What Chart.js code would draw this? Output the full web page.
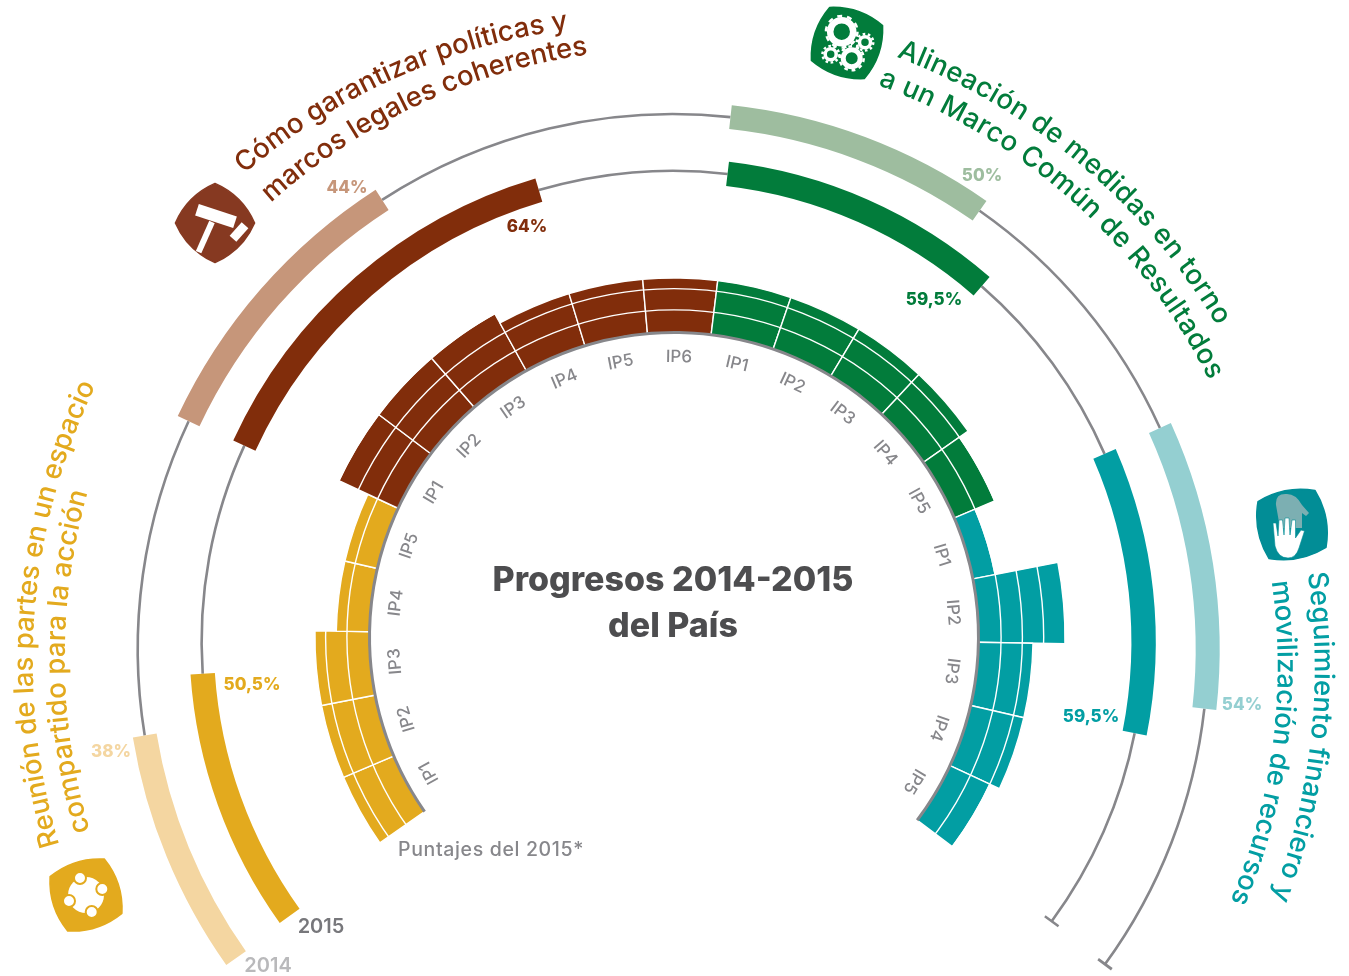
<!DOCTYPE html>
<html lang="es">
<head>
<meta charset="utf-8">
<title>Progresos 2014-2015 del País</title>
<script src="https://cdn.jsdelivr.net/npm/chart.js@4"></script>
<style>
  html, body { margin: 0; background: #fff; overflow: hidden; }
  #stage { position: relative; width: 1349px; height: 976px; overflow: hidden; }
  #stage canvas { position: absolute; left: 0; top: 0; }
  #overlay { position: absolute; left: 0; top: 0; pointer-events: none; }
  #overlay text { font-family: Inter, "Noto Sans", sans-serif; }
</style>
</head>
<body>
<div id="stage">
  <svg id="overlay" width="1349" height="976" xmlns="http://www.w3.org/2000/svg"></svg>
</div>
<script>
const yellowScores = [2.5, 2.5, 2.5, 1.5, 1.5];
const redScores = [3, 3, 3, 2.5, 2.5, 2.5];
const greenScores = [2.5, 2.5, 2.5, 2.5, 2];
const tealScores = [1, 4, 2.5, 2.5, 2];
const yellowIps = ['IP1', 'IP2', 'IP3', 'IP4', 'IP5'];
const redIps = ['IP1', 'IP2', 'IP3', 'IP4', 'IP5', 'IP6'];
const greenIps = ['IP1', 'IP2', 'IP3', 'IP4', 'IP5'];
const tealIps = ['IP1', 'IP2', 'IP3', 'IP4', 'IP5'];
const gridLevels = [1, 2, 3];

// Arcos anuales en grados: barra, hueco, barra, hueco... (amarillo, marrón, verde, turquesa)
const arcs2014 = [26, 34.5, 31.9, 39.1, 28.8, 30.6, 30.8, 29.7];
const arcs2015 = [31.7, 28.5, 48.9, 23.2, 34.3, 25.5, 34.7, 25.2];
const pct2014 = ['38%', '44%', '50%', '54%'];
const pct2015 = ['50,5%', '64%', '59,5%', '59,5%'];

const COLORS = { yellow: '#e3aa1e', red: '#812d0b', green: '#027c3b', teal: '#029ea3' };
const LIGHT = { yellow: '#f4d6a1', red: '#c6967a', green: '#9ebd9f', teal: '#94cfd1' };
const GRAY = '#87878b';
const CLEAR = 'rgba(0,0,0,0)';
const W = 1349, H = 1300;
const stage = document.getElementById('stage');
const svg = document.getElementById('overlay');
const NS = 'http://www.w3.org/2000/svg';

function newCanvas() {
  const c = document.createElement('canvas');
  c.width = W;
  c.height = H;
  stage.insertBefore(c, svg);
  return c;
}

function boxPadding(cx, cy, r) {
  return { left: cx - r, top: cy - r, right: W - cx - r, bottom: H - cy - r };
}

function ringChart(cx, cy, rOut, rIn, startDeg, values, colors) {
  return new Chart(newCanvas(), {
    type: 'doughnut',
    data: { datasets: [{ data: values, backgroundColor: colors, borderWidth: 0 }] },
    options: {
      responsive: false, animation: false, events: [],
      rotation: startDeg, cutout: (rIn / rOut * 100) + '%',
      layout: { padding: boxPadding(cx, cy, rOut) },
      plugins: { legend: { display: false }, tooltip: { enabled: false } }
    }
  });
}

function sum(a) { return a.reduce((s, v) => s + v, 0); }

function yearRings(cx, cy, rMid, halfBar, startDeg, arcs, palette) {
  const rest = 360 - sum(arcs);
  const barColors = [palette.yellow, CLEAR, palette.red, CLEAR, palette.green, CLEAR, palette.teal, CLEAR, CLEAR];
  const lineColors = [CLEAR, GRAY, CLEAR, GRAY, CLEAR, GRAY, CLEAR, GRAY, CLEAR];
  const values = arcs.concat([rest]);
  ringChart(cx, cy, rMid + 1.3, rMid - 1.3, startDeg, values, lineColors);
  // remate final de la línea
  const tickDeg = 0.3;
  ringChart(cx, cy, rMid + 8.5, rMid - 8.5, startDeg + sum(arcs) - tickDeg / 2, [tickDeg, 360 - tickDeg], [GRAY, CLEAR]);
  ringChart(cx, cy, rMid + halfBar, rMid - halfBar, startDeg, values, barColors);
}

yearRings(672.7, 649, 535, 12, 234.7, arcs2014, LIGHT);
yearRings(672.6, 641.7, 471, 12.2, 234.4, arcs2015, COLORS);

// Celdas interiores: polar con un slot de 12° por IP
const innerCx = 674, innerCy = 637, outerR = 391, pxPerPoint = 21.3, innerR = 305;
const maxScore = 4;
const minScore = maxScore - outerR / pxPerPoint;
const zeroValue = maxScore - (outerR - innerR) / pxPerPoint;
const blanks = [minScore, minScore, minScore, minScore, minScore, minScore, minScore, minScore, minScore];
const slotValues = [].concat(yellowScores, redScores, greenScores, tealScores, blanks);
const slotLabels = [].concat(yellowIps, redIps, greenIps, tealIps, blanks.map(() => ''));
const slotColors = [].concat(
  yellowScores.map(() => COLORS.yellow), redScores.map(() => COLORS.red),
  greenScores.map(() => COLORS.green), tealScores.map(() => COLORS.teal), blanks.map(() => CLEAR));

const innerMask = {
  id: 'innerMask',
  afterDatasetsDraw(chart) {
    const s = chart.scales.r, ctx = chart.ctx;
    ctx.save();
    ctx.fillStyle = '#fff';
    ctx.beginPath();
    ctx.arc(s.xCenter, s.yCenter, s.getDistanceFromCenterForValue(zeroValue), 0, Math.PI * 2);
    ctx.fill();
    ctx.restore();
  },
  afterDraw(chart) {
    const s = chart.scales.r, ctx = chart.ctx;
    const dist = s.getDistanceFromCenterForValue(zeroValue) - 25;
    const half = Math.PI / slotLabels.length;
    ctx.save();
    ctx.fillStyle = GRAY;
    ctx.font = '500 17px Inter, "Noto Sans", sans-serif';
    ctx.textAlign = 'center';
    ctx.textBaseline = 'middle';
    slotLabels.forEach((label, i) => {
      if (!label) return;
      const p = s.getPointPosition(i, dist, half);
      ctx.save();
      ctx.translate(p.x, p.y);
      ctx.rotate(p.angle + Math.PI / 2);
      ctx.fillText(label, 0, 0);
      ctx.restore();
    });
    ctx.restore();
  }
};

new Chart(newCanvas(), {
  type: 'polarArea',
  data: {
    labels: slotLabels,
    datasets: [{ data: slotValues, backgroundColor: slotColors, borderColor: '#fff', borderWidth: 1.4 }]
  },
  options: {
    responsive: false, animation: false, events: [],
    layout: { padding: boxPadding(innerCx, innerCy, outerR) },
    plugins: { legend: { display: false }, tooltip: { enabled: false } },
    scales: {
      r: {
        startAngle: 235, min: minScore, max: maxScore,
        ticks: { display: false },
        afterBuildTicks(scale) { scale.ticks = gridLevels.map(value => ({ value })); },
        grid: { circular: true, color: '#fff', lineWidth: 1.4, z: 1 },
        angleLines: { display: false },
        pointLabels: { display: false }
      }
    }
  },
  plugins: [innerMask]
});

// Línea gris que cierra el círculo interior
const slotDeg = 12, usedSlots = slotValues.length - blanks.length;
ringChart(innerCx, innerCy, innerR + 1, innerR - 2, 235, [usedSlots * slotDeg, 360 - usedSlots * slotDeg], [GRAY, CLEAR]);

// ---------- textos ----------
function el(name, attrs, parent) {
  const n = document.createElementNS(NS, name);
  Object.keys(attrs).forEach(k => n.setAttribute(k, attrs[k]));
  (parent || svg).appendChild(n);
  return n;
}

function plain(text, x, y, size, color, weight, anchor, spacing) {
  const t = el('text', {
    x, y, fill: color, 'font-size': size, 'font-weight': weight || 400,
    'text-anchor': anchor || 'middle', 'dominant-baseline': 'central',
    'letter-spacing': spacing || 0
  });
  t.textContent = text;
  return t;
}

const curvedLines = [
  { text: 'Cómo garantizar políticas y', cx: 650, cy: 649, r: 625, from: 319.5, to: 352.5, color: COLORS.red },
  { text: 'marcos legales coherentes', cx: 672.7, cy: 649, r: 600.5, from: 318, to: 351.9, color: COLORS.red },
  { text: 'Alineación de medidas en torno', cx: 672.7, cy: 649, r: 633, from: 20.7, to: 59.3, color: COLORS.green },
  { text: 'a un Marco Común de Resultados', cx: 672.7, cy: 649, r: 600, from: 20, to: 63.4, color: COLORS.green },
  { text: 'Seguimiento financiero y', cx: 672.7, cy: 668, r: 642, from: 81.5, to: 111, color: COLORS.teal },
  { text: 'movilización de recursos', cx: 672.7, cy: 666.7, r: 605, from: 81.9, to: 112.8, color: COLORS.teal },
  { text: 'Reunión de las partes en un espacio', cx: 672.7, cy: 662, r: 640, from: 253.4, to: 295.6, color: COLORS.yellow },
  { text: 'compartido para la acción', cx: 672.7, cy: 658, r: 608, from: 253.5, to: 285.8, color: COLORS.yellow }
];

const defs = el('defs', {});
curvedLines.forEach((line, i) => {
  const rad = d => d * Math.PI / 180;
  const pt = d => [line.cx + line.r * Math.sin(rad(d)), line.cy - line.r * Math.cos(rad(d))];
  const a = pt(line.from), b = pt(line.to + 6);
  el('path', { id: 'arc' + i, d: `M${a[0]},${a[1]} A${line.r},${line.r} 0 0 1 ${b[0]},${b[1]}` }, defs);
  const t = el('text', { fill: line.color, 'font-size': 27.5, 'font-weight': 500 });
  const tp = el('textPath', { href: '#arc' + i }, t);
  tp.textContent = line.text;
  const target = rad(line.to - line.from) * line.r;
  const spacing = (target - t.getComputedTextLength()) / (line.text.length - 1);
  t.setAttribute('letter-spacing', spacing.toFixed(3));
});

plain('Progresos 2014-2015', 673, 578, 34, '#4d4d4f', 800);
plain('del País', 673, 624, 34, '#4d4d4f', 800);
plain('Puntajes del 2015*', 398, 849, 19.5, GRAY, 500, 'start', 0.65);
plain('2015', 321, 926, 20, '#77777b', 600);
plain('2014', 268, 965, 20, '#b9b9bb', 600);

plain(pct2014[0], 111, 751, 17, LIGHT.yellow, 800);
plain(pct2014[1], 347, 187, 17, LIGHT.red, 800);
plain(pct2014[2], 982, 175, 17, LIGHT.green, 800);
plain(pct2014[3], 1242, 704, 17, LIGHT.teal, 800);
plain(pct2015[0], 252, 684, 17, COLORS.yellow, 800);
plain(pct2015[1], 527, 226, 17, COLORS.red, 800);
plain(pct2015[2], 934, 299, 17, COLORS.green, 800);
plain(pct2015[3], 1091, 716, 17, COLORS.teal, 800);

// ---------- iconos ----------
function badge(cx, cy, rot, half, color) {
  const b = half + 11;
  el('path', {
    d: `M${-half},${-half} Q0,${-b} ${half},${-half} Q${b},0 ${half},${half} Q0,${b} ${-half},${half} Q${-b},0 ${-half},${-half}Z`,
    fill: color, stroke: color, 'stroke-width': 1.5, 'stroke-linejoin': 'round',
    transform: `translate(${cx},${cy}) rotate(${rot})`
  });
}

badge(215, 223, 45, 28, '#863921');
el('rect', { x: -20, y: -6, width: 40, height: 12, fill: '#fff', transform: 'translate(216,216) rotate(18)' });
el('rect', { x: -3, y: 0, width: 6, height: 33, fill: '#fff', transform: 'translate(212,222) rotate(24)' });
el('rect', { x: -4.5, y: -9, width: 9, height: 18, fill: '#fff', transform: 'translate(239,232) rotate(42)' });

badge(847, 43, 19, 28, COLORS.green);
[[841.7, 31.7, 11.5, 6.5], [851.7, 58.3, 8.5, 5], [865, 42.3, 5.5, 3.5], [830.7, 54.3, 5.5, 3.5]].forEach(g => {
  el('circle', { cx: g[0], cy: g[1], r: g[2], fill: 'none', stroke: '#fff', 'stroke-width': g[3] });
  const outer = g[2] + g[3] / 2 + 1;
  const dash = outer * Math.PI * 2 / 20;
  el('circle', { cx: g[0], cy: g[1], r: outer, fill: 'none', stroke: '#fff', 'stroke-width': 2.5, 'stroke-dasharray': `${dash} ${dash}` });
});

badge(1292, 524.5, -11, 29, '#028d96');
el('path', {
  d: 'M1276,505 Q1275,493 1287,494 Q1296,494 1302,505 L1309,513 L1306,516 L1302,513 L1302,528 L1280,528 Z',
  fill: '#7cafb2'
});
el('path', {
  d: 'M1273,523 L1276,523 L1278,536 L1279,520 L1282.5,520 L1284,535 L1285,518 L1289,518 L1290,535 L1292,520 L1295.5,520 L1295.5,538 L1301,530 L1304.5,531 L1299,548 Q1296,558 1288,558 Q1278,558 1275,546 Z',
  fill: '#fff', stroke: '#028d96', 'stroke-width': 0.6
});

badge(86, 895, -18, 28.5, COLORS.yellow);
el('circle', { cx: 86, cy: 895, r: 18, fill: '#fff' });
[[80, 878], [102.3, 889], [91.7, 912], [69, 901]].forEach(p => {
  el('circle', { cx: p[0], cy: p[1], r: 6, fill: '#fff', stroke: COLORS.yellow, 'stroke-width': 2 });
});
</script>
</body>
</html>
